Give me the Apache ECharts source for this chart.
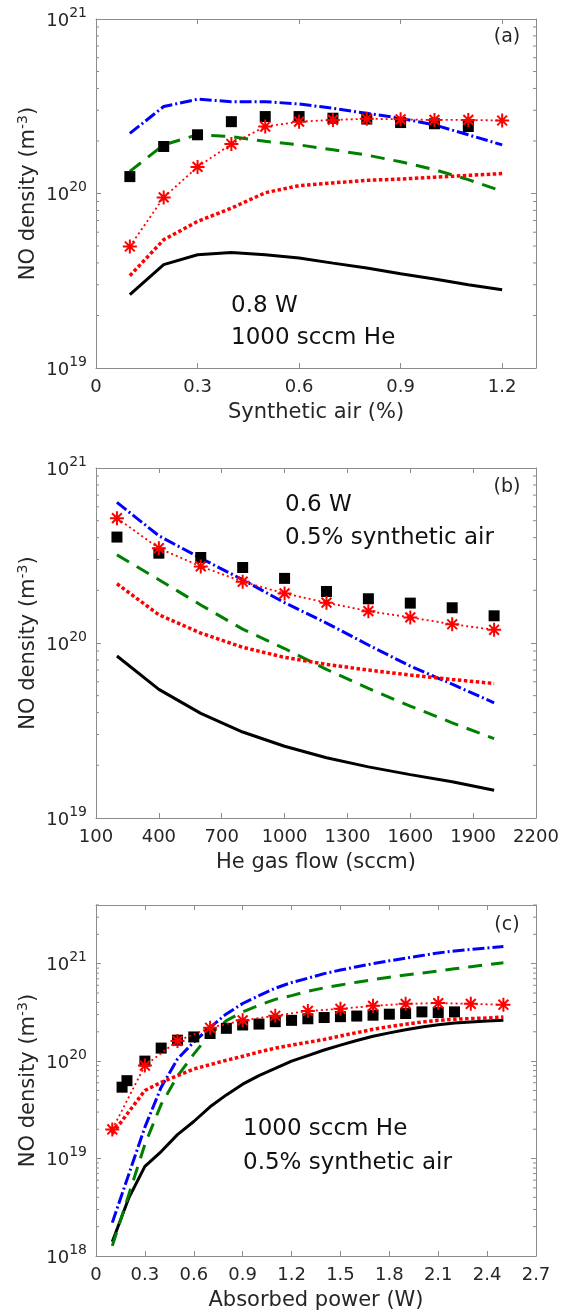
<!DOCTYPE html>
<html>
<head>
<meta charset="utf-8">
<script src="https://cdn.jsdelivr.net/npm/echarts@6.0.0/dist/echarts.min.js"></script>
<style>
html,body{margin:0;padding:0;background:#fff;}
#chart{width:565px;height:1312px;}
</style>
</head>
<body>
<div id="chart"></div>
<script>
// ---------------- DATA ----------------
// Panel (a): NO density vs synthetic air (%)
const aLineX = [0.1,0.2,0.3,0.4,0.5,0.6,0.7,0.8,0.9,1.0,1.1,1.2];
const aBlack = [2.63e19,3.91e19,4.46e19,4.59e19,4.46e19,4.27e19,3.99e19,3.74e19,3.47e19,3.24e19,3.00e19,2.81e19];
const aBlue  = [2.21e20,3.15e20,3.47e20,3.36e20,3.36e20,3.26e20,3.08e20,2.88e20,2.70e20,2.47e20,2.17e20,1.90e20];
const aGreen = [1.34e20,1.90e20,2.17e20,2.12e20,1.99e20,1.90e20,1.78e20,1.66e20,1.52e20,1.37e20,1.20e20,1.03e20];
const aRed   = [3.38e19,5.43e19,6.92e19,8.24e19,1.01e20,1.11e20,1.15e20,1.19e20,1.21e20,1.24e20,1.27e20,1.30e20];
const aStar  = [4.97e19,9.5e19,1.42e20,1.92e20,2.42e20,2.58e20,2.64e20,2.68e20,2.66e20,2.64e20,2.64e20,2.62e20];
const aSqX   = [0.1,0.2,0.3,0.4,0.5,0.6,0.7,0.8,0.9,1.0,1.1];
const aSq    = [1.25e20,1.86e20,2.17e20,2.58e20,2.76e20,2.76e20,2.70e20,2.67e20,2.55e20,2.51e20,2.42e20];

// Panel (b): NO density vs He gas flow (sccm)
const bX     = [200,400,600,800,1000,1200,1400,1600,1800,2000];
const bBlack = [8.43e19,5.43e19,3.96e19,3.10e19,2.57e19,2.21e19,1.96e19,1.77e19,1.61e19,1.44e19];
const bBlue  = [6.36e20,4.10e20,3.05e20,2.30e20,1.70e20,1.30e20,9.74e19,7.38e19,5.82e19,4.55e19];
const bGreen = [3.19e20,2.30e20,1.65e20,1.20e20,9.3e19,7.06e19,5.5e19,4.36e19,3.5e19,2.84e19];
const bRed   = [2.18e20,1.45e20,1.14e20,9.45e19,8.28e19,7.55e19,7.0e19,6.56e19,6.19e19,5.87e19];
const bStar  = [5.17e20,3.48e20,2.74e20,2.24e20,1.92e20,1.70e20,1.52e20,1.40e20,1.28e20,1.19e20];
const bSq    = [4.03e20,3.26e20,3.08e20,2.70e20,2.34e20,1.97e20,1.79e20,1.69e20,1.59e20,1.43e20];

// Panel (c): NO density vs absorbed power (W)
const cLineX = [0.1,0.2,0.3,0.4,0.5,0.6,0.7,0.8,0.9,1.0,1.1,1.2,1.3,1.4,1.5,1.6,1.7,1.8,1.9,2.0,2.1,2.2,2.3,2.4,2.5];
const cBlack = [1.4e18,3.9e18,8.3e18,1.18e19,1.76e19,2.4e19,3.4e19,4.5e19,5.8e19,7.1e19,8.4e19,1.0e20,1.14e20,1.3e20,1.46e20,1.63e20,1.8e20,1.95e20,2.1e20,2.24e20,2.36e20,2.46e20,2.52e20,2.58e20,2.62e20];
const cBlue  = [2.2e18,6.8e18,2.1e19,5.4e19,1.05e20,1.57e20,2.22e20,3.05e20,3.9e20,4.7e20,5.6e20,6.4e20,7.1e20,7.9e20,8.6e20,9.3e20,1.0e21,1.07e21,1.14e21,1.21e21,1.29e21,1.35e21,1.40e21,1.45e21,1.50e21];
const cGreen = [1.27e18,4.2e18,1.4e19,3.6e19,7.0e19,1.18e20,1.9e20,2.6e20,3.2e20,3.75e20,4.3e20,4.7e20,5.2e20,5.65e20,6.05e20,6.45e20,6.85e20,7.25e20,7.65e20,8.0e20,8.4e20,8.85e20,9.3e20,9.75e20,1.02e21];
const cRed   = [1.8e19,3.0e19,5.0e19,6.05e19,7.1e19,8.3e19,9.2e19,1.02e20,1.12e20,1.24e20,1.36e20,1.46e20,1.56e20,1.67e20,1.81e20,1.96e20,2.12e20,2.26e20,2.39e20,2.52e20,2.62e20,2.69e20,2.73e20,2.77e20,2.83e20];
const cStarX = [0.1,0.3,0.5,0.7,0.9,1.1,1.3,1.5,1.7,1.9,2.1,2.3,2.5];
const cStar  = [1.99e19,9.0e19,1.61e20,2.2e20,2.62e20,2.92e20,3.27e20,3.44e20,3.69e20,3.87e20,3.94e20,3.87e20,3.79e20];
const cSqX   = [0.16,0.19,0.3,0.4,0.5,0.6,0.7,0.8,0.9,1.0,1.1,1.2,1.3,1.4,1.5,1.6,1.7,1.8,1.9,2.0,2.1,2.2];
const cSq    = [5.4e19,6.3e19,1.0e20,1.36e20,1.64e20,1.77e20,1.92e20,2.17e20,2.35e20,2.40e20,2.54e20,2.62e20,2.72e20,2.8e20,2.86e20,2.9e20,2.96e20,3.03e20,3.08e20,3.2e20,3.15e20,3.2e20];

// Axis settings / texts
const panelLetters = ['(a)','(b)','(c)'];
const xTitles = ['Synthetic air (%)','He gas flow (sccm)','Absorbed power (W)'];
const xMins = [0,100,0];
const xMaxs = [1.3,2200,2.7];
const xSteps = [0.3,300,0.3];
const yMins = [1e19,1e19,1e18];
const yMaxs = [1e21,1e21,4e21];
const notes = [['0.8 W','1000 sccm He'],['0.6 W','0.5% synthetic air'],['1000 sccm He','0.5% synthetic air']];

// ---------------- LAYOUT ----------------
const FONT = 'DejaVu Sans';
const AX = '#8c8c8c';
const TXT = '#262626';
const grids = [
  {left:96, width:440, top:19, height:349},
  {left:96, width:440, top:468, height:350},
  {left:96, width:440, top:905, height:351}
];
const notePos = [[231,306,338],[285,505,538],[243,1129,1163]];
const letterPos = [[507,37],[507,487],[507,925]];

const zip = (xs, ys) => xs.map((x,i)=>[x, ys[i]]);
const ASTER = 'path://M0 10L20 10M10 0L10 20M3 3L17 17M17 3L3 17';

const xAxes = [], yAxes = [], series = [], graphics = [];

for (let p = 0; p < 3; p++) {
  const step = xSteps[p];
  const xmin = xMins[p];
  const fmtX = v => {
    const k = (v - xmin) / step;
    return Math.abs(k - Math.round(k)) < 1e-6 ? String(+v.toFixed(2)) : '';
  };
  xAxes.push({
    type:'value', gridIndex:p, position:'bottom', min:xMins[p], max:xMaxs[p], interval:step,
    name:xTitles[p], nameLocation:'middle', nameGap:34,
    nameTextStyle:{fontFamily:FONT, fontSize:21, color:TXT},
    axisLine:{show:true, onZero:false, lineStyle:{color:AX, width:1}},
    axisTick:{show:true, inside:true, length:5, lineStyle:{color:AX}},
    axisLabel:{fontFamily:FONT, fontSize:18, color:TXT, margin:10, formatter:fmtX, showMaxLabel: p===0 ? false : true},
    splitLine:{show:false}
  });
  xAxes.push({
    type:'value', gridIndex:p, position:'top', min:xMins[p], max:xMaxs[p], interval:step,
    axisLine:{show:true, onZero:false, lineStyle:{color:AX, width:1}},
    axisTick:{show:true, inside:true, length:5, lineStyle:{color:AX}},
    axisLabel:{show:false}, splitLine:{show:false}
  });
  yAxes.push({
    type:'log', logBase:10, gridIndex:p, position:'left', min:yMins[p], max:yMaxs[p],
    name:'NO density (m{s|-3})', nameLocation:'middle', nameGap:54, nameRotate:90,
    nameMoveOverlap:false,
    nameTextStyle:{fontFamily:FONT, fontSize:21, color:TXT,
      rich:{s:{fontFamily:FONT, fontSize:14, color:TXT, padding:[0,0,12,0]}}},
    axisLine:{show:true, onZero:false, lineStyle:{color:AX, width:1}},
    axisTick:{show:true, inside:true, length:5, lineStyle:{color:AX}},
    axisLabel:{fontFamily:FONT, color:TXT, margin:9, showMaxLabel: p===2 ? false : true,
      padding:[4,0,0,0],
      formatter: v => '{b|10}{s|' + Math.round(Math.log10(v)) + '}',
      rich:{
        b:{fontFamily:FONT, fontSize:18, color:TXT, lineHeight:18, verticalAlign:'bottom'},
        s:{fontFamily:FONT, fontSize:14, color:TXT, lineHeight:14, padding:[0,0,10,0], verticalAlign:'bottom'}
      }},
    splitLine:{show:false}
  });
  yAxes.push({
    type:'log', logBase:10, gridIndex:p, position:'right', min:yMins[p], max:yMaxs[p],
    axisLine:{show:true, onZero:false, lineStyle:{color:AX, width:1}},
    axisTick:{show:true, inside:true, length:5, lineStyle:{color:AX}},
    axisLabel:{show:false}, splitLine:{show:false}
  });

  // minor log ticks (2..9 x 10^n) drawn through the axis scale
  const minor = [];
  const e0 = Math.floor(Math.log10(yMins[p])), e1 = Math.ceil(Math.log10(yMaxs[p]));
  for (let e = e0; e < e1; e++) for (let m = 2; m <= 9; m++) {
    const v = m * Math.pow(10, e);
    if (v > yMins[p] && v <= yMaxs[p] * 1.0001) minor.push([xMins[p], v]);
  }
  const xmax = xMaxs[p];
  series.push({
    type:'custom', xAxisIndex:2*p, yAxisIndex:2*p, data:minor, clip:false, silent:true, z:1,
    encode:{x:0, y:1},
    renderItem:(params, api) => {
      const v = api.value(1);
      const a = api.coord([xmin, v]);
      const b = api.coord([xmax, v]);
      return {type:'group', children:[
        {type:'line', shape:{x1:a[0], y1:a[1], x2:a[0]+3, y2:a[1]}, style:{stroke:AX, lineWidth:1}},
        {type:'line', shape:{x1:b[0], y1:b[1], x2:b[0]-3, y2:b[1]}, style:{stroke:AX, lineWidth:1}}
      ]};
    }
  });

  graphics.push({type:'text', x:letterPos[p][0], y:letterPos[p][1],
    style:{text:panelLetters[p], fontFamily:FONT, fontSize:19, fill:TXT, align:'center', verticalAlign:'middle'}});
  graphics.push({type:'text', x:notePos[p][0], y:notePos[p][1],
    style:{text:notes[p][0], fontFamily:FONT, fontSize:23, fill:'#111', align:'left', verticalAlign:'middle'}});
  graphics.push({type:'text', x:notePos[p][0], y:notePos[p][2],
    style:{text:notes[p][1], fontFamily:FONT, fontSize:23, fill:'#111', align:'left', verticalAlign:'middle'}});
}

function addPanel(p, lx, black, blue, green, red, sx, stars, qx, squares) {
  const base = {xAxisIndex:2*p, yAxisIndex:2*p, showSymbol:false, symbol:'none', silent:true, clip:false};
  series.push(Object.assign({}, base, {type:'line', data:zip(lx, black), z:2,
    lineStyle:{color:'#000000', width:3, type:'solid', cap:'butt'}}));
  series.push(Object.assign({}, base, {type:'line', data:zip(lx, blue), z:3,
    lineStyle:{color:'#0000ff', width:3, type:[12,3,2,3], cap:'butt'}}));
  series.push(Object.assign({}, base, {type:'line', data:zip(lx, green), z:3,
    lineStyle:{color:'#008000', width:3, type:[14,9], cap:'butt'}}));
  series.push(Object.assign({}, base, {type:'line', data:zip(lx, red), z:3,
    lineStyle:{color:'#ff0000', width:3.5, type:[3.5,2.5], cap:'butt'}}));
  series.push({type:'scatter', xAxisIndex:2*p, yAxisIndex:2*p, data:zip(qx, squares), z:4, silent:true,
    symbol:'rect', symbolSize:11, itemStyle:{color:'#000000', opacity:1}});
  series.push({type:'line', xAxisIndex:2*p, yAxisIndex:2*p, data:zip(sx, stars), z:5, silent:true,
    symbol:ASTER, symbolSize:14, showSymbol:true, showAllSymbol:true,
    lineStyle:{color:'#ff0000', width:1.8, type:[2,3]},
    itemStyle:{color:'rgba(0,0,0,0)', borderColor:'#ff0000', borderWidth:2, opacity:1}});
}
addPanel(0, aLineX, aBlack, aBlue, aGreen, aRed, aLineX, aStar, aSqX, aSq);
addPanel(1, bX, bBlack, bBlue, bGreen, bRed, bX, bStar, bX, bSq);
addPanel(2, cLineX, cBlack, cBlue, cGreen, cRed, cStarX, cStar, cSqX, cSq);

const chart = echarts.init(document.getElementById('chart'), null, {renderer:'canvas'});
chart.setOption({
  animation:false,
  backgroundColor:'#ffffff',
  grid:grids,
  xAxis:xAxes,
  yAxis:yAxes,
  series:series,
  graphic:graphics
});
</script>
</body>
</html>
